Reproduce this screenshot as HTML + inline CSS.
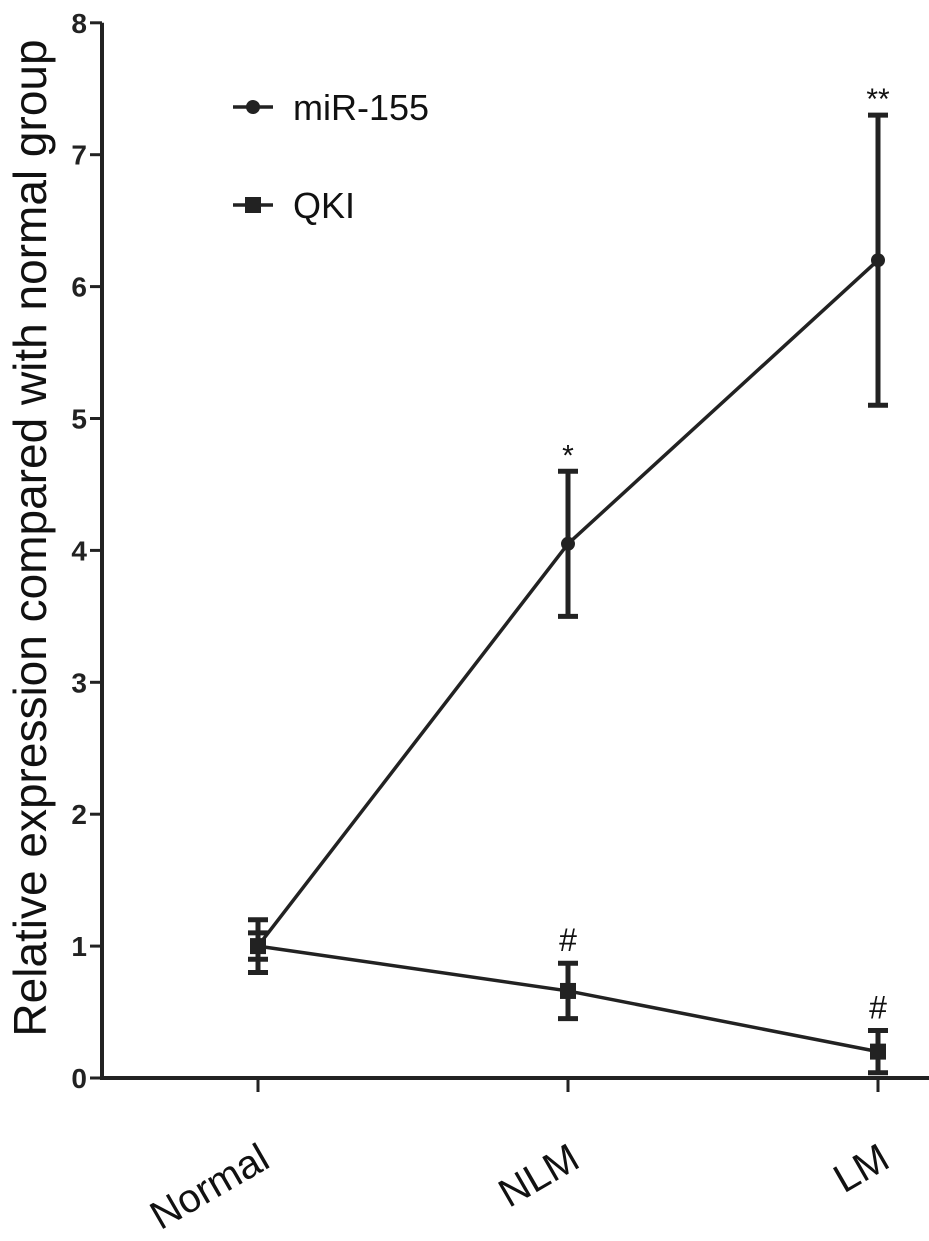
<!DOCTYPE html>
<html><head><meta charset="utf-8"><style>
body{margin:0;background:#fff}
svg{display:block;font-family:"Liberation Sans",Arial,sans-serif}
</style></head><body>
<svg id="c" width="929" height="1241" viewBox="0 0 929 1241"></svg>
<script>
const categories=["Normal","NLM","LM"];
const mirValues=[1,4.05,6.2];
const mirErr=[0.2,0.55,1.1];
const qkiValues=[1,0.66,0.2];
const qkiErr=[0.1,0.21,0.16];
const yTicks=[0,1,2,3,4,5,6,7,8];
const mirMarks=["","*","**"];
const qkiMarks=["","#","#"];
const NS="http://www.w3.org/2000/svg";
const svg=document.getElementById('c');
const x0=102,yBase=1078,unit=131.9;
const xPos=i=>258+i*310;
const yPos=v=>yBase-v*unit;
function el(t,a,txt){const e=document.createElementNS(NS,t);for(const k in a)e.setAttribute(k,a[k]);if(txt!=null)e.textContent=txt;svg.appendChild(e);return e;}
let e=el('line',{x1:x0,y1:yPos(8),x2:x0,y2:yBase+1,stroke:'#222','stroke-width':4});

e=el('line',{x1:x0-2,y1:yBase,x2:929,y2:yBase,stroke:'#222','stroke-width':4});

yTicks.forEach(t=>{
 e=el('line',{x1:x0-12,y1:yPos(t),x2:x0,y2:yPos(t),stroke:'#222','stroke-width':3});
 
 e=el('text',{x:x0-15,y:yPos(t)+10,'text-anchor':'end','font-size':28,'font-weight':'bold',fill:'#222'},t);
 
});
categories.forEach((c,i)=>{
 e=el('line',{x1:xPos(i),y1:yBase,x2:xPos(i),y2:yBase+14,stroke:'#222','stroke-width':3});
 
 e=el('text',{x:0,y:0,'text-anchor':'end','font-size':40,fill:'#111',transform:`translate(${xPos(i)+14},${yBase+88}) rotate(-30)`},c);
 
});
e=el('text',{x:0,y:0,'text-anchor':'middle','font-size':46,fill:'#111',transform:'translate(46,538) rotate(-90)'},'Relative expression compared with normal group');

function series(vals,errs,marks,shape,name){
 e=el('polyline',{points:vals.map((v,i)=>xPos(i)+','+yPos(v)).join(' '),fill:'none',stroke:'#222','stroke-width':3.5});
 
 vals.forEach((v,i)=>{
  const x=xPos(i),lo=yPos(v-errs[i]),hi=yPos(v+errs[i]);
  e=el('path',{d:`M${x},${hi}V${lo}M${x-10},${hi}H${x+10}M${x-10},${lo}H${x+10}`,stroke:'#222','stroke-width':5,fill:'none'});
  
  if(shape==='circle')e=el('circle',{cx:x,cy:yPos(v),r:7,fill:'#222'});
  else e=el('rect',{x:x-8,y:yPos(v)-8,width:16,height:16,fill:'#222'});
  
  if(marks[i]){
   const star=marks[i].includes('*');
   e=el('text',{x:x,y:hi-(star?6:12),'text-anchor':'middle','font-size':star?30:32,fill:'#111'},marks[i]);
   
  }
 });
}
series(mirValues,mirErr,mirMarks,'circle','mir155');
series(qkiValues,qkiErr,qkiMarks,'square','qki');
e=el('line',{x1:233,y1:107,x2:273,y2:107,stroke:'#222','stroke-width':3.5});

e=el('circle',{cx:253,cy:107,r:7,fill:'#222'});

e=el('text',{x:293,y:120,'font-size':36,fill:'#111'},'miR-155');

e=el('line',{x1:233,y1:205,x2:273,y2:205,stroke:'#222','stroke-width':3.5});

e=el('rect',{x:245,y:197,width:16,height:16,fill:'#222'});

e=el('text',{x:293,y:218,'font-size':36,fill:'#111'},'QKI');

</script>
</body></html>
